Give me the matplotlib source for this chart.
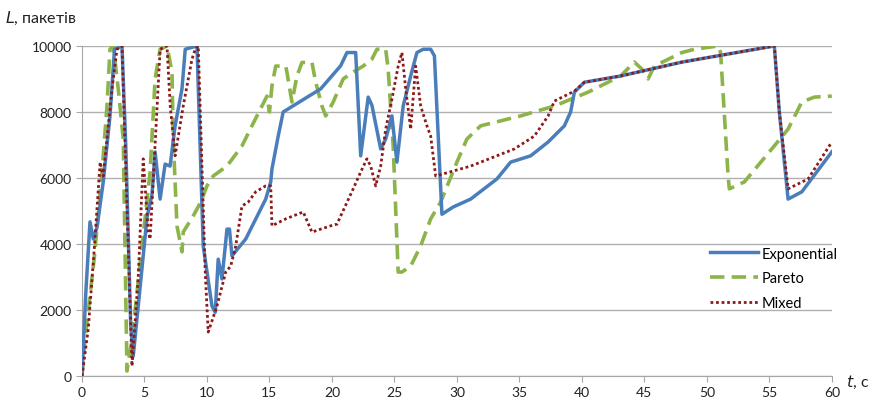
import matplotlib
matplotlib.use("Agg")
import matplotlib.pyplot as plt

# Queue length L (packets) over time t (s) for three traffic models
t_exp = [0, 0.3, 0.64, 0.9, 1.2, 1.7, 2.24, 2.6, 3.2, 3.5, 3.9, 4.1, 4.6, 5.2,
         5.6, 5.85, 6.25, 6.65, 7.05, 7.45, 8.0, 8.26, 9.2, 9.7, 10.4, 10.66,
         10.9, 11.2, 11.6, 11.8, 12.0, 13.1, 14.7, 15.1, 15.2, 15.7, 16.1, 19.1,
         20.7, 21.2, 21.9, 22.3, 22.9, 23.2, 23.9, 24.3, 24.8, 25.2, 25.7, 26.3,
         26.8, 27.3, 27.9, 28.2, 28.8, 29.7, 31.1, 33.2, 34.3, 35.9, 37.3, 38.6,
         39.1, 39.4, 40.2, 43.1, 48.0, 55.4, 55.8, 56.5, 57.6, 60]
L_exp = [0, 2500, 4670, 4150, 4500, 5880, 7880, 9900, 10000, 7000, 1500, 600,
         2500, 4800, 5500, 6790, 5360, 6420, 6360, 7580, 8700, 9900, 10000, 3940,
         2120, 1930, 3540, 2940, 4450, 4450, 3640, 4150, 5360, 5880, 6270, 7270,
         8000, 8700, 9400, 9800, 9800, 6670, 8450, 8200, 6880, 7180, 7880, 6480,
         8180, 9090, 9800, 9900, 9900, 9700, 4900, 5120, 5360, 5970, 6480, 6670,
         7090, 7580, 8000, 8600, 8900, 9090, 9510, 10000, 8000, 5360, 5580, 6790]

t_par = [0, 0.25, 1.0, 1.6, 2.0, 2.24, 2.5, 2.9, 3.3, 3.6, 4.0, 4.8, 5.45, 5.85,
         6.25, 6.8, 7.2, 7.3, 7.6, 8.0, 8.1, 8.9, 9.5, 10.0, 10.5, 11.6, 12.8,
         13.6, 14.4, 14.8, 15.0, 15.2, 15.5, 16.3, 16.4, 16.8, 17.2, 17.6, 18.4,
         18.7, 19.2, 19.5, 20.1, 20.9, 21.7, 22.5, 23.2, 23.6, 24.3, 24.5, 24.9,
         25.3, 25.6, 26.3, 27.1, 27.9, 28.7, 30.0, 30.8, 31.9, 35.1, 37.8, 40.5,
         43.1, 44.2, 44.8, 45.3, 45.8, 48.0, 49.0, 50.9, 51.1, 51.7, 51.8, 53.0,
         55.2, 56.5, 57.6, 58.6, 60]
L_par = [0, 1120, 3640, 6180, 8180, 9900, 10000, 8700, 7180, 150, 1120, 3940,
         6180, 9000, 9900, 10000, 9210, 7180, 4550, 3760, 4360, 4850, 5270, 5760,
         6060, 6360, 6970, 7580, 8180, 8480, 8000, 8790, 9390, 9390, 9200, 8300,
         9090, 9500, 9500, 8900, 8180, 7880, 8300, 9000, 9210, 9390, 9600, 9900,
         9900, 9300, 6970, 3150, 3150, 3330, 3940, 4760, 5270, 6480, 7180, 7580,
         7880, 8180, 8600, 9090, 9510, 9300, 9000, 9390, 9800, 9900, 10000, 9800,
         6060, 5670, 5880, 6880, 7480, 8300, 8450, 8480]

t_mix = [0, 0.5, 1.0, 1.45, 1.7, 2.0, 2.4, 2.8, 3.2, 4.0, 4.5, 4.9, 5.3, 5.45,
         6.25, 6.8, 7.06, 7.45, 8.1, 8.8, 9.06, 9.3, 9.86, 10.1, 10.8, 11.5,
         11.9, 12.3, 12.8, 13.3, 13.9, 14.7, 15.1, 15.2, 16.3, 17.7, 18.4, 19.1,
         19.9, 20.4, 21.7, 22.3, 22.8, 23.1, 23.5, 23.9, 24.3, 24.8, 25.3, 25.6,
         25.9, 26.3, 26.7, 27.1, 27.6, 27.9, 28.2, 28.3, 31.1, 34.6, 36.2, 37.3,
         37.8, 39.4, 40.2, 43.1, 48.0, 55.4, 55.8, 56.5, 58.1, 60]
L_mix = [0, 1420, 3940, 6480, 6060, 7180, 8700, 9900, 10000, 300, 3000, 6580,
         4360, 4150, 9900, 10000, 8180, 6670, 8180, 9600, 9900, 10000, 3150, 1330,
         2120, 3150, 3330, 3940, 5150, 5270, 5580, 5760, 5760, 4550, 4760, 4970,
         4360, 4450, 4550, 4600, 5670, 6180, 6580, 6360, 5760, 6360, 7480, 8390,
         9390, 9800, 8700, 7480, 9390, 8180, 7580, 7270, 6360, 6060, 6360, 6880,
         7270, 7880, 8330, 8630, 8900, 9090, 9510, 10000, 8000, 5670, 5970, 7090]

plt.rcParams["font.family"] = ["Lato", "DejaVu Sans"]

fig = plt.figure(figsize=(8.78, 4.10), dpi=100)
ax = fig.add_axes([0.0934, 0.0805, 0.854, 0.805])

ax.plot(t_exp, L_exp, color="#4a7ebb", lw=2.5, label="Exponential", zorder=3)
ax.plot(t_par, L_par, color="#8cb449", lw=2.6, dashes=(4, 2), label="Pareto", zorder=2)
ax.plot(t_mix, L_mix, color="#8b1a1a", lw=2.0, dashes=(1, 1), label="Mixed", zorder=4)

ax.set_xlim(0, 60)
ax.set_ylim(0, 10000)
ax.set_xticks(range(0, 61, 5))
ax.set_yticks(range(0, 10001, 2000))
ax.yaxis.grid(True, color="#b0b0b0", lw=1.0)
ax.set_axisbelow(True)
for side in ("top", "right"):
    ax.spines[side].set_visible(False)
for side in ("left", "bottom"):
    ax.spines[side].set_color("#a6a6a6")
ax.tick_params(axis="both", colors="#a6a6a6", labelcolor="#222222",
               labelsize=10, length=4)

fig.text(0.006, 0.955, r"$\it{L}$, пакетів", fontsize=11.5, color="#222222", va="center")
fig.text(0.963, 0.068, r"$\it{t}$, c", fontsize=11.5, color="#222222", va="center")

ax.legend(loc="upper left", bbox_to_anchor=(0.83, 0.41), frameon=False,
          fontsize=10.5, handlelength=3.3, handletextpad=0.2,
          labelspacing=0.75, borderaxespad=0)

fig.savefig("out.png", dpi=100)
